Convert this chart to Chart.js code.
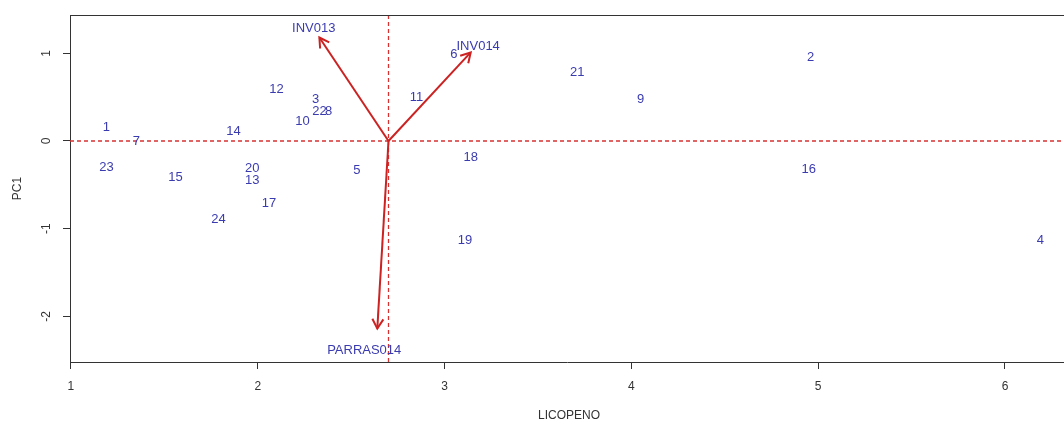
<!DOCTYPE html>
<html>
<head>
<meta charset="utf-8">
<script src="https://cdn.jsdelivr.net/npm/chart.js@4/dist/chart.umd.min.js"></script>
<style>
  html, body { margin: 0; padding: 0; background: #fff; }
  #wrap { width: 1064px; height: 424px; }
</style>
</head>
<body>
<div id="wrap"><canvas id="biplot"></canvas></div>
<script>
// --- Data ---
const sampleLabels = ['1','2','3','4','5','6','7','8','9','10','11','12','13','14','15','16','17','18','19','20','21','22','23','24'];
const sampleX = [1.19, 4.96, 2.31, 6.19, 2.53, 3.05, 1.35, 2.38, 4.05, 2.24, 2.85, 2.10, 1.97, 1.87, 1.56, 4.95, 2.06, 3.14, 3.11, 1.97, 3.71, 2.33, 1.19, 1.79];
const sampleY = [0.15, 0.95, 0.47, -1.13, -0.34, 0.99, 0.00, 0.34, 0.47, 0.22, 0.50, 0.59, -0.45, 0.11, -0.41, -0.33, -0.71, -0.19, -1.13, -0.31, 0.78, 0.34, -0.30, -0.90];

const vectorNames = ['INV013', 'INV014', 'PARRAS014'];
const vectorOrigin = [2.70, 0];
const vectorTipX = [2.33, 3.14, 2.64];
const vectorTipY = [1.18, 1.01, -2.14];
const vectorLabelX = [2.30, 3.18, 2.57];
const vectorLabelY = [1.28, 1.08, -2.39];

const xTicks = [1, 2, 3, 4, 5, 6];
const yTicks = [-2, -1, 0, 1];
const xTitle = 'LICOPENO';
const yTitle = 'PC1';

const FONT = '"Liberation Sans", Arial, sans-serif';
const labelBlue = '#3b3bb0';
const arrowRed = '#cc2222';
const refRed = 'rgb(215, 50, 50)';

// --- Build datasets ---
const points = sampleX.map((x, i) => ({ x: x, y: sampleY[i] }));
const arrowSets = vectorNames.map((name, i) => ({
  type: 'line',
  label: name,
  data: [{ x: vectorOrigin[0], y: vectorOrigin[1] }, { x: vectorTipX[i], y: vectorTipY[i] }],
  borderColor: arrowRed,
  borderWidth: 2,
  pointRadius: 0,
  showLine: true,
  fill: false
}));

// --- Custom drawing: reference lines, arrow heads, text labels, box, titles ---
const biplotDecor = {
  id: 'biplotDecor',
  beforeDatasetsDraw(chart) {
    const { ctx, chartArea: a, scales: { x, y } } = chart;
    ctx.save();
    ctx.strokeStyle = refRed;
    ctx.lineWidth = 1.3;
    ctx.setLineDash([4, 3]);
    const py = y.getPixelForValue(0);
    const px = x.getPixelForValue(vectorOrigin[0]);
    ctx.beginPath();
    ctx.moveTo(a.left, py); ctx.lineTo(a.right, py);
    ctx.moveTo(px, a.top); ctx.lineTo(px, a.bottom);
    ctx.stroke();
    ctx.restore();
  },
  afterDatasetsDraw(chart) {
    const { ctx, chartArea: a, scales: { x, y } } = chart;
    ctx.save();
    // arrow heads
    ctx.strokeStyle = arrowRed;
    ctx.lineWidth = 2;
    const ox = x.getPixelForValue(vectorOrigin[0]);
    const oy = y.getPixelForValue(vectorOrigin[1]);
    vectorNames.forEach((n, i) => {
      const tx = x.getPixelForValue(vectorTipX[i]);
      const ty = y.getPixelForValue(vectorTipY[i]);
      const ang = Math.atan2(ty - oy, tx - ox);
      const len = 11, spread = Math.PI / 6;
      ctx.beginPath();
      ctx.moveTo(tx - len * Math.cos(ang - spread), ty - len * Math.sin(ang - spread));
      ctx.lineTo(tx, ty);
      ctx.lineTo(tx - len * Math.cos(ang + spread), ty - len * Math.sin(ang + spread));
      ctx.stroke();
    });
    // sample + vector labels
    ctx.fillStyle = labelBlue;
    ctx.font = '13px ' + FONT;
    ctx.textAlign = 'center';
    ctx.textBaseline = 'middle';
    sampleLabels.forEach((t, i) => {
      ctx.fillText(t, x.getPixelForValue(sampleX[i]), y.getPixelForValue(sampleY[i]));
    });
    vectorNames.forEach((t, i) => {
      ctx.fillText(t, x.getPixelForValue(vectorLabelX[i]), y.getPixelForValue(vectorLabelY[i]));
    });
    // top border of the box
    ctx.strokeStyle = '#333';
    ctx.lineWidth = 1;
    ctx.beginPath();
    ctx.moveTo(a.left, a.top + 0.5); ctx.lineTo(a.right, a.top + 0.5);
    ctx.stroke();
    // rotated y tick labels
    ctx.fillStyle = '#333';
    ctx.font = '12px ' + FONT;
    yTicks.forEach(v => {
      ctx.save();
      ctx.translate(a.left - 23, y.getPixelForValue(v));
      ctx.rotate(-Math.PI / 2);
      ctx.fillText(String(v), 0, 0);
      ctx.restore();
    });
    // axis titles
    ctx.fillText(xTitle, (a.left + a.right) / 2 + 2, 416);
    ctx.save();
    ctx.translate(18, (a.top + a.bottom) / 2);
    ctx.rotate(-Math.PI / 2);
    ctx.fillText(yTitle, 0, 0);
    ctx.restore();
    ctx.restore();
  }
};

new Chart(document.getElementById('biplot'), {
  type: 'scatter',
  data: {
    datasets: [
      { label: 'samples', data: points, pointRadius: 0, pointHoverRadius: 0 },
      ...arrowSets
    ]
  },
  options: {
    responsive: true,
    maintainAspectRatio: false,
    animation: false,
    layout: { padding: { top: 15, right: 0, left: 0, bottom: 0 } },
    plugins: { legend: { display: false }, tooltip: { enabled: false } },
    scales: {
      x: {
        type: 'linear',
        min: 0.995,
        max: 6.316,
        afterBuildTicks: s => { s.ticks = xTicks.map(v => ({ value: v })); },
        afterFit: s => { s.height = 62; },
        grid: { display: true, drawOnChartArea: false, drawTicks: true, tickLength: 7, color: '#333' },
        border: { display: true, color: '#333', width: 1 },
        ticks: { color: '#333', font: { family: FONT, size: 12 }, padding: 10, maxRotation: 0 }
      },
      y: {
        type: 'linear',
        min: -2.521,
        max: 1.437,
        afterBuildTicks: s => { s.ticks = yTicks.map(v => ({ value: v })); },
        afterFit: s => { s.width = 70; },
        grid: { display: true, drawOnChartArea: false, drawTicks: true, tickLength: 7, color: '#333' },
        border: { display: true, color: '#333', width: 1 },
        ticks: { display: true, color: 'rgba(0,0,0,0)', font: { family: FONT, size: 12 } }
      }
    }
  },
  plugins: [biplotDecor]
});
</script>
</body>
</html>
